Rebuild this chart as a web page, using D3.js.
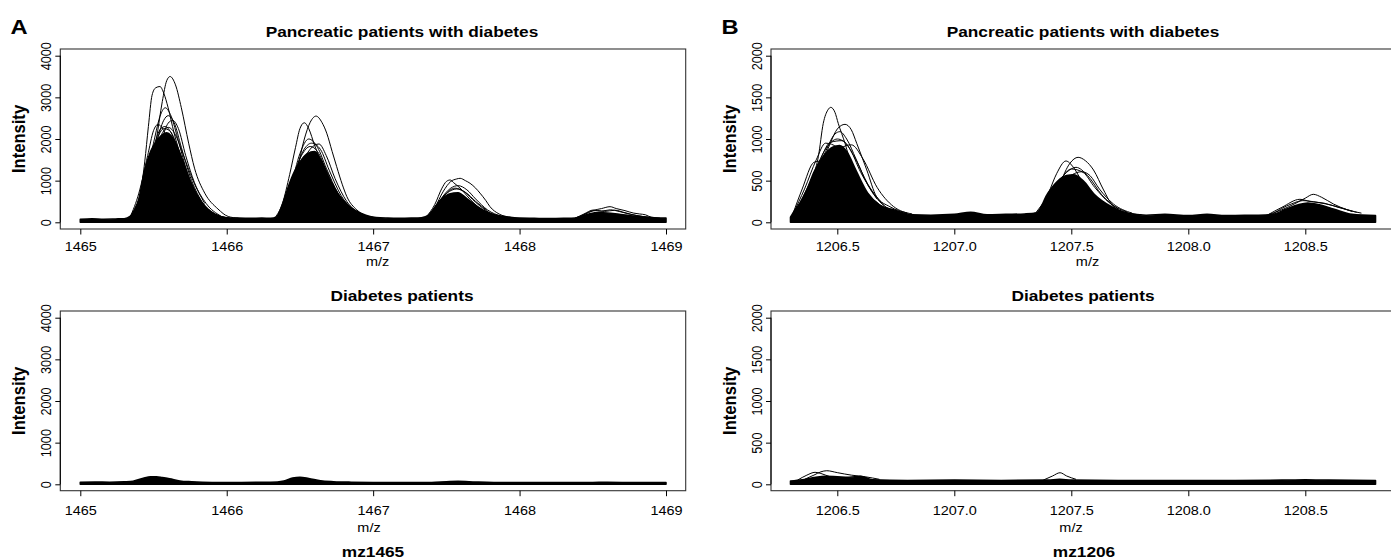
<!DOCTYPE html>
<html><head><meta charset="utf-8">
<script src="https://cdn.jsdelivr.net/npm/d3@7"></script>
<style>body{margin:0;background:#fff} text{font-family:"Liberation Sans",Arial,Helvetica,sans-serif;fill:#000}</style>
</head><body><svg id="c" width="1391" height="560"></svg>
<script>
// ---------------- DATA ----------------
const titlesTop = "Pancreatic patients with diabetes";
const titlesBottom = "Diabetes patients";
const panelLetters = ["A", "B"];
const markerNames = ["mz1465", "mz1206"];
const xTicksA = [1465, 1466, 1467, 1468, 1469];
const xTicksB = [1206.5, 1207.0, 1207.5, 1208.0, 1208.5];
const yTicksA = [0, 1000, 2000, 3000, 4000];
const yTicksB = [0, 500, 1000, 1500, 2000];

// Panel A, pancreatic: dense envelope of the bulk of spectra [m/z, intensity]
const coreATop = [[1465.00,70],[1465.08,85],[1465.16,75],[1465.24,80],[1465.30,85],[1465.34,140],[1465.37,300],[1465.40,560],[1465.44,1250],[1465.48,1700],[1465.52,1950],[1465.56,2100],[1465.59,2150],[1465.62,2080],[1465.65,1900],[1465.70,1480],[1465.75,1000],[1465.80,640],[1465.86,340],[1465.92,180],[1466.00,110],[1466.08,100],[1466.16,95],[1466.24,100],[1466.30,95],[1466.34,130],[1466.38,420],[1466.42,850],[1466.46,1200],[1466.50,1450],[1466.55,1650],[1466.60,1700],[1466.65,1450],[1466.70,1050],[1466.76,680],[1466.82,440],[1466.88,280],[1466.95,170],[1467.02,115],[1467.10,100],[1467.18,95],[1467.26,100],[1467.33,110],[1467.38,170],[1467.43,400],[1467.47,560],[1467.52,680],[1467.58,710],[1467.64,570],[1467.71,380],[1467.78,240],[1467.84,170],[1467.92,125],[1468.00,100],[1468.10,95],[1468.20,90],[1468.30,95],[1468.38,105],[1468.43,150],[1468.48,205],[1468.54,235],[1468.60,225],[1468.68,190],[1468.76,155],[1468.84,130],[1468.92,110],[1469.00,100]];
// Panel A, pancreatic: individual spectra standing above the bulk
const spectraATop = [
  [[1465.36,120],[1465.42,500],[1465.47,1100],[1465.52,2000],[1465.56,2900],[1465.59,3400],[1465.613,3500],[1465.65,3300],[1465.69,2750],[1465.74,1900],[1465.78,1300],[1465.85,700],[1465.94,320],[1466.01,140],[1466.08,100]],
  [[1465.33,100],[1465.37,300],[1465.41,700],[1465.44,1450],[1465.465,2300],[1465.49,3050],[1465.515,3230],[1465.544,3260],[1465.57,3100],[1465.60,2750],[1465.64,2150],[1465.70,1450],[1465.78,750],[1465.88,280],[1465.98,120]],
  [[1465.36,150],[1465.44,900],[1465.50,1900],[1465.55,2600],[1465.58,2750],[1465.62,2550],[1465.67,1950],[1465.73,1200],[1465.80,650],[1465.90,250],[1466.00,110]],
  [[1465.38,150],[1465.46,1000],[1465.52,1900],[1465.57,2450],[1465.60,2560],[1465.64,2400],[1465.69,1800],[1465.75,1100],[1465.83,500],[1465.93,180],[1466.02,100]],
  [[1465.34,120],[1465.40,700],[1465.46,1600],[1465.50,2200],[1465.53,2350],[1465.57,2200],[1465.62,1700],[1465.70,900],[1465.80,400],[1465.92,150]],
  [[1465.40,150],[1465.48,900],[1465.55,1900],[1465.60,2380],[1465.63,2450],[1465.67,2250],[1465.72,1600],[1465.78,950],[1465.86,450],[1465.96,150]],
  [[1465.36,140],[1465.43,800],[1465.50,1800],[1465.55,2250],[1465.58,2300],[1465.62,2150],[1465.68,1600],[1465.76,850],[1465.86,350]],
  [[1465.37,150],[1465.45,1000],[1465.52,1950],[1465.57,2250],[1465.61,2200],[1465.66,1850],[1465.72,1250],[1465.80,600],[1465.90,220]],
  [[1465.39,200],[1465.47,1200],[1465.54,2000],[1465.60,2280],[1465.65,2100],[1465.70,1650],[1465.77,1000],[1465.85,450]],
  [[1466.36,120],[1466.42,500],[1466.48,1250],[1466.53,2000],[1466.57,2400],[1466.61,2550],[1466.65,2400],[1466.683,2140],[1466.72,1700],[1466.751,1335],[1466.79,900],[1466.82,620],[1466.888,300],[1466.95,160],[1467.02,110]],
  [[1466.33,110],[1466.38,450],[1466.43,1150],[1466.47,1800],[1466.50,2250],[1466.53,2390],[1466.56,2250],[1466.60,1850],[1466.65,1400],[1466.72,850],[1466.80,450],[1466.90,200],[1467.00,110]],
  [[1466.36,130],[1466.44,900],[1466.50,1650],[1466.56,2000],[1466.62,1800],[1466.68,1300],[1466.76,700],[1466.86,300],[1466.96,140]],
  [[1466.38,150],[1466.46,900],[1466.54,1600],[1466.60,1850],[1466.63,1880],[1466.68,1600],[1466.74,1050],[1466.82,500],[1466.92,200],[1467.00,120]],
  [[1466.36,140],[1466.44,950],[1466.51,1600],[1466.57,1820],[1466.62,1700],[1466.68,1250],[1466.75,750],[1466.85,330]],
  [[1466.37,150],[1466.45,1000],[1466.52,1700],[1466.58,1900],[1466.64,1750],[1466.70,1250],[1466.78,650],[1466.88,250]],
  [[1467.36,120],[1467.42,350],[1467.48,750],[1467.53,980],[1467.57,1040],[1467.594,1056],[1467.63,1000],[1467.662,936],[1467.70,820],[1467.73,700],[1467.77,520],[1467.798,375],[1467.86,200],[1467.94,120]],
  [[1467.36,120],[1467.42,420],[1467.47,820],[1467.50,980],[1467.526,1016],[1467.55,950],[1467.60,800],[1467.66,560],[1467.72,360],[1467.80,200],[1467.90,120]],
  [[1467.38,130],[1467.46,550],[1467.53,820],[1467.58,880],[1467.64,780],[1467.70,560],[1467.78,300],[1467.88,140]],
  [[1467.40,150],[1467.48,620],[1467.56,820],[1467.62,740],[1467.70,480],[1467.80,220],[1467.90,120]],
  [[1467.38,140],[1467.45,500],[1467.52,740],[1467.57,800],[1467.63,720],[1467.70,500],[1467.78,280]],
  [[1468.38,100],[1468.44,180],[1468.50,280],[1468.56,330],[1468.618,375],[1468.66,330],[1468.72,280],[1468.78,220],[1468.82,200],[1468.86,180],[1468.90,120],[1468.96,100]],
  [[1468.38,100],[1468.44,200],[1468.504,295],[1468.56,270],[1468.62,300],[1468.68,260],[1468.76,190],[1468.86,130]],
  [[1468.40,100],[1468.47,240],[1468.52,280],[1468.58,260],[1468.65,290],[1468.72,230],[1468.80,160],[1468.90,110]]
];
// Panel A, diabetes only
const coreABottom = [[1465.00,50],[1465.10,55],[1465.20,50],[1465.30,60],[1465.36,75],[1465.43,145],[1465.48,180],[1465.52,180],[1465.56,160],[1465.61,130],[1465.68,80],[1465.76,60],[1465.90,45],[1466.10,45],[1466.30,50],[1466.39,80],[1466.45,150],[1466.50,170],[1466.56,140],[1466.64,85],[1466.73,62],[1466.85,50],[1467.00,45],[1467.20,40],[1467.40,45],[1467.50,60],[1467.58,70],[1467.70,55],[1467.90,40],[1468.20,40],[1468.50,45],[1468.60,50],[1468.80,40],[1469.00,40]];
const spectraABottom = [];

// Panel B, pancreatic
const coreBTop = [[1206.30,60],[1206.32,150],[1206.34,230],[1206.37,390],[1206.40,600],[1206.44,790],[1206.48,900],[1206.51,920],[1206.54,850],[1206.58,620],[1206.63,350],[1206.68,210],[1206.74,150],[1206.82,90],[1206.90,85],[1207.00,95],[1207.07,120],[1207.14,90],[1207.22,95],[1207.30,100],[1207.35,110],[1207.40,350],[1207.44,490],[1207.48,560],[1207.51,570],[1207.55,500],[1207.60,330],[1207.67,190],[1207.74,110],[1207.82,85],[1207.90,95],[1208.00,80],[1208.08,95],[1208.16,80],[1208.24,85],[1208.30,85],[1208.36,95],[1208.42,160],[1208.47,210],[1208.51,230],[1208.56,210],[1208.62,160],[1208.70,95],[1208.80,80]];
const spectraBTop = [
  [[1206.32,80],[1206.36,250],[1206.397,547],[1206.419,788],[1206.44,1188],[1206.46,1350],[1206.472,1380],[1206.49,1320],[1206.504,1188],[1206.533,948],[1206.562,667],[1206.60,420],[1206.65,250],[1206.72,150],[1206.80,100]],
  [[1206.33,90],[1206.38,300],[1206.43,650],[1206.47,950],[1206.50,1120],[1206.533,1176],[1206.56,1110],[1206.583,948],[1206.626,628],[1206.668,307],[1206.725,187],[1206.80,110]],
  [[1206.33,100],[1206.40,500],[1206.45,850],[1206.49,1060],[1206.511,1088],[1206.54,1000],[1206.58,760],[1206.63,450],[1206.70,200],[1206.78,110]],
  [[1206.31,100],[1206.36,400],[1206.41,750],[1206.45,950],[1206.50,900],[1206.55,700],[1206.62,380],[1206.70,170]],
  [[1206.36,150],[1206.44,600],[1206.51,880],[1206.56,930],[1206.61,760],[1206.67,420],[1206.74,190],[1206.82,100]],
  [[1206.31,100],[1206.35,400],[1206.40,720],[1206.43,740],[1206.48,850],[1206.53,820],[1206.60,450],[1206.68,180]],
  [[1206.32,110],[1206.39,520],[1206.45,880],[1206.50,1000],[1206.55,900],[1206.60,600],[1206.67,280]],
  [[1206.33,120],[1206.41,620],[1206.47,960],[1206.52,980],[1206.57,800],[1206.63,460],[1206.70,200]],
  [[1207.34,100],[1207.40,180],[1207.423,268],[1207.452,468],[1207.494,708],[1207.529,780],[1207.56,740],[1207.595,628],[1207.638,388],[1207.68,187],[1207.74,110],[1207.80,90]],
  [[1207.33,100],[1207.366,148],[1207.402,348],[1207.438,588],[1207.477,736],[1207.509,660],[1207.54,520],[1207.58,380],[1207.64,220],[1207.72,120]],
  [[1207.36,110],[1207.42,300],[1207.48,520],[1207.545,607],[1207.58,560],[1207.62,400],[1207.68,220],[1207.76,110]],
  [[1207.36,120],[1207.43,400],[1207.50,640],[1207.55,600],[1207.60,420],[1207.66,240],[1207.74,120]],
  [[1207.35,120],[1207.42,380],[1207.48,600],[1207.52,660],[1207.57,560],[1207.63,330],[1207.70,160]],
  [[1208.34,90],[1208.40,150],[1208.46,230],[1208.50,290],[1208.534,336],[1208.57,300],[1208.62,220],[1208.68,150],[1208.74,110]],
  [[1208.34,90],[1208.40,180],[1208.477,276],[1208.52,250],[1208.58,230],[1208.64,180],[1208.72,120]],
  [[1208.36,100],[1208.44,220],[1208.49,260],[1208.55,240],[1208.62,200],[1208.70,130]]
];
// Panel B, diabetes only
const coreBBottom = [[1206.30,40],[1206.35,55],[1206.40,80],[1206.45,95],[1206.50,90],[1206.55,85],[1206.60,95],[1206.65,55],[1206.80,45],[1207.00,50],[1207.20,45],[1207.40,50],[1207.45,60],[1207.50,50],[1207.70,45],[1208.00,45],[1208.20,45],[1208.40,50],[1208.50,55],[1208.60,50],[1208.80,45]];
const spectraBBottom = [
  [[1206.36,60],[1206.40,110],[1206.43,150],[1206.455,163],[1206.50,140],[1206.56,110],[1206.62,90],[1206.68,60]],
  [[1206.33,50],[1206.37,110],[1206.405,144],[1206.43,130],[1206.47,90],[1206.52,70]],
  [[1207.38,50],[1207.42,100],[1207.452,139],[1207.48,100],[1207.52,60]]
];

// ---------------- LAYOUT ----------------
const SX = 1.13; // horizontal text stretch seen in the reference
const cols = [
  {letter: panelLetters[0], name: markerNames[0], xDom: [xTicksA[0], xTicksA[4]], xRange: [80.3, 666], left: 60.3, right: 685.7,
   xTicks: xTicksA, xFmt: d3.format("d"), yTicks: yTicksA, letterX: 10, titleX: 402, mzTopX: 377.7, mzBotX: 369, nameX: 373,
   rows: [{core: coreATop, spectra: spectraATop}, {core: coreABottom, spectra: spectraABottom}]},
  {letter: panelLetters[1], name: markerNames[1], xDom: [xTicksB[0], xTicksB[4]], xRange: [837.3, 1305.3], left: 771, right: 1400,
   xTicks: xTicksB, xFmt: d3.format(".1f"), yTicks: yTicksB, letterX: 721, titleX: 1083, mzTopX: 1087.5, mzBotX: 1071, nameX: 1084,
   rows: [{core: coreBTop, spectra: spectraBTop}, {core: coreBBottom, spectra: spectraBBottom}]}
];
const rowsL = [
  {title: titlesTop, top: 49, bottom: 229, y0: 222.3, y1: 55.7, titleY: 37.3, tickY: 250.5, mzY: 266},
  {title: titlesBottom, top: 311, bottom: 490.7, y0: 484.3, y1: 317.7, titleY: 300.7, tickY: 514.5, mzY: 531.5}
];

const svg = d3.select("#c");
function txt(g, x, y, s, size, bold, rot) {
  return g.append("text").attr("transform", `translate(${x},${y}) scale(${SX},1)` + (rot ? ` rotate(${rot})` : ""))
    .attr("text-anchor", "middle").style("font-size", size + "px").style("font-weight", bold ? "bold" : "normal").text(s);
}

cols.forEach(c => {
  const x = d3.scaleLinear().domain(c.xDom).range(c.xRange);
  txt(svg, c.letterX + 9, 33.5, c.letter, 21, true).attr("text-anchor", "middle");
  rowsL.forEach((r, ri) => {
    const y = d3.scaleLinear().domain([c.yTicks[0], c.yTicks[c.yTicks.length - 1]]).range([r.y0, r.y1]);
    const g = svg.append("g");
    const clipId = `clip${c.letter}${ri}`;
    svg.append("clipPath").attr("id", clipId).append("rect")
      .attr("x", c.left).attr("y", r.top).attr("width", c.right - c.left).attr("height", r.bottom - r.top);
    const plot = g.append("g").attr("clip-path", `url(#${clipId})`);
    const area = d3.area().x(d => x(d[0])).y0(y(0)).y1(d => y(d[1])).curve(d3.curveMonotoneX);
    const line = d3.line().x(d => x(d[0])).y(d => y(d[1])).curve(d3.curveMonotoneX);
    plot.append("path").datum(c.rows[ri].core).attr("d", area)
      .attr("fill", "#000").attr("stroke", "#000").attr("stroke-width", 1.6).attr("stroke-linejoin", "round").attr("stroke-linecap", "round");
    plot.selectAll("path.sp").data(c.rows[ri].spectra).join("path").attr("class", "sp")
      .attr("d", line).attr("fill", "none").attr("stroke", "#000").attr("stroke-width", 1);
    // box
    g.append("rect").attr("x", c.left).attr("y", r.top).attr("width", c.right - c.left).attr("height", r.bottom - r.top)
      .attr("fill", "none").attr("stroke", "#333").attr("stroke-width", 1.1);
    // x axis
    const xa = g.append("g").attr("transform", `translate(0,${r.bottom})`)
      .call(d3.axisBottom(x).tickValues(c.xTicks).tickSize(5.5).tickFormat(c.xFmt));
    xa.select(".domain").remove();
    xa.selectAll("line").attr("stroke", "#000");
    xa.selectAll("text").attr("y", null).attr("dy", null).style("font-size", "12.8px")
      .attr("transform", `translate(0,${r.tickY - r.bottom}) scale(${SX},1)`);
    // y axis
    const ya = g.append("g").attr("transform", `translate(${c.left},0)`)
      .call(d3.axisLeft(y).tickValues(c.yTicks).tickSize(5).tickFormat(d3.format("d")));
    ya.select(".domain").attr("d", `M0,${r.y0}V${r.y1}`).attr("stroke", "#000");
    ya.selectAll("line").attr("stroke", "#000");
    ya.selectAll("text").attr("x", null).attr("dy", null).attr("text-anchor", "middle").style("font-size", "12.7px")
      .attr("transform", `translate(-9.5,0) scale(${SX},1) rotate(-90)`);
    // labels
    txt(g, c.left - 35.3, (r.top + r.bottom) / 2, "Intensity", 16.6, true, -90);
    txt(g, c.titleX, r.titleY, r.title, 15.3, true);
    txt(g, ri === 0 ? c.mzTopX : c.mzBotX, r.mzY, "m/z", 12.8, false);
  });
  txt(svg, c.nameX, 556.5, c.name, 15.3, true);
});
</script></body></html>
